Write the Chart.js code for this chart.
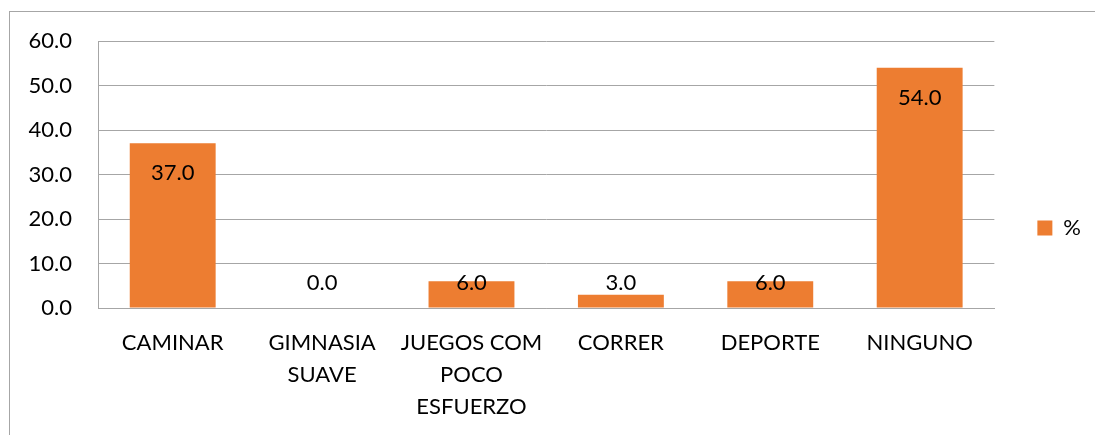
<!DOCTYPE html>
<html>
<head>
<meta charset="utf-8">
<script src="https://cdn.jsdelivr.net/npm/chart.js@4.4.1/dist/chart.umd.min.js"></script>
<style>
  html, body { margin:0; padding:0; background:#fff; overflow:hidden; }
  #wrap { position:relative; width:1095px; height:435px; }
  #frame { position:absolute; left:9px; top:11px; width:1200px; height:600px; border:1px solid #a6a6a6; box-sizing:border-box; }
  #chart { position:absolute; left:0; top:0; }
</style>
</head>
<body>
<div id="wrap">
  <div id="frame"></div>
  <canvas id="chart" width="1095" height="435"></canvas>
</div>
<script>
/* bar chart — actividad física */
const CATEGORIES = ['CAMINAR', ['GIMNASIA', 'SUAVE'], ['JUEGOS COM', 'POCO', 'ESFUERZO'], 'CORRER', 'DEPORTE', 'NINGUNO'];
const VALUES = [37.0, 0.0, 6.0, 3.0, 6.0, 54.0];
const SERIES_NAME = '%';
const Y_TICKS = [0, 10, 20, 30, 40, 50, 60];

const ORANGE = '#ED7D31';
const GRID = '#a6a6a6';
const FONT = 'Lato, "Open Sans", sans-serif';

// data labels, Excel "inside end" style
const valueLabels = {
  id: 'valueLabels',
  afterDatasetsDraw(chart){
    const ctx = chart.ctx;
    const meta = chart.getDatasetMeta(0);
    ctx.save();
    ctx.font = '22px ' + FONT;
    ctx.fillStyle = '#000';
    ctx.textAlign = 'center';
    ctx.textBaseline = 'middle';
    meta.data.forEach((bar, i) => {
      const y = Math.min(bar.y + 30, bar.base - 25);
      ctx.fillText(VALUES[i].toFixed(1), bar.x, y);
    });
    ctx.restore();
  }
};

new Chart(document.getElementById('chart'), {
  type: 'bar',
  data: {
    labels: CATEGORIES,
    datasets: [{
      label: SERIES_NAME,
      data: VALUES,
      backgroundColor: ORANGE,
      borderWidth: 0,
      categoryPercentage: 0.575,
      barPercentage: 1.0
    }]
  },
  options: {
    responsive: false,
    animation: false,
    layout: { padding: { top: 41, left: 0, right: 4, bottom: 20 } },
    plugins: {
      legend: {
        position: 'right',
        labels: { boxWidth: 15, boxHeight: 15, padding: 43, color: '#000', font: { family: FONT, size: 22 } }
      },
      tooltip: { enabled: false }
    },
    scales: {
      x: {
        grid: { display: false, drawTicks: false },
        border: { display: true, color: GRID, width: 1 },
        ticks: { color: '#000', padding: 19, maxRotation: 0, autoSkip: false, font: { family: FONT, size: 22, lineHeight: 1.45 } },
        afterFit(scale){ scale.height = 107; }
      },
      y: {
        min: 0, max: 60,
        afterBuildTicks(scale){ scale.ticks = Y_TICKS.map(v => ({ value: v })); },
        grid: { color: GRID, lineWidth: 1, drawTicks: false },
        border: { display: true, color: GRID, width: 1 },
        ticks: { color: '#000', padding: 26, callback: v => Number(v).toFixed(1), font: { family: FONT, size: 22 } },
        afterFit(scale){ scale.width = 98; }
      }
    }
  },
  plugins: [valueLabels]
});
</script>
</body>
</html>
